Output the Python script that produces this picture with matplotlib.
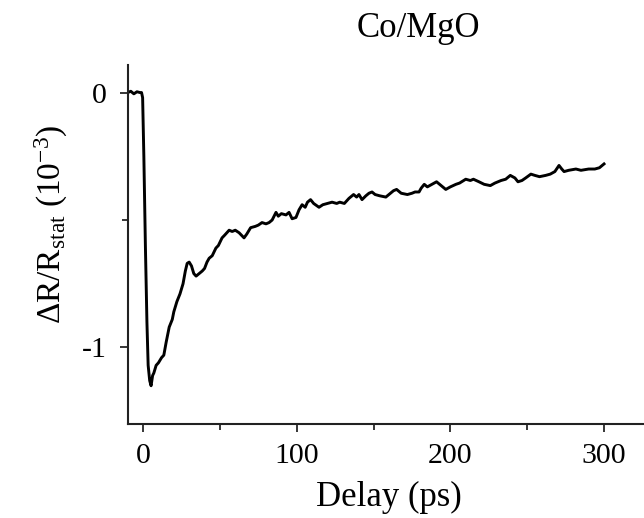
import matplotlib
matplotlib.use('Agg')
import matplotlib.pyplot as plt
from matplotlib.ticker import MultipleLocator

plt.rcParams['font.family'] = ['Liberation Serif', 'DejaVu Serif']
plt.rcParams['mathtext.fontset'] = 'custom'
plt.rcParams['mathtext.rm'] = 'Liberation Serif'
plt.rcParams['mathtext.it'] = 'Liberation Serif:italic'
plt.rcParams['axes.unicode_minus'] = False

# delay (ps) and reflectivity change (1e-3)
delay = [-10, -8, -6, -4, -2, -1, -0.3, 0.5, 1.5, 2.5, 3.3, 4.3, 5.2, 6.2, 7, 8.5, 10, 12, 13.5,
         15, 17, 19, 20, 22, 24, 26, 27.5, 28.7, 30, 31.5, 33, 34.5, 36.5, 38.5, 40, 41.6, 43,
         45, 47.4, 49, 51.4, 53, 56, 58, 60, 62.5, 65.7, 67.5, 70, 73, 75, 77.4, 80, 82, 84,
         86.5, 88, 90, 93, 95, 97, 99.5, 101.5, 103.5, 105.5, 107, 109, 111, 114.5, 117, 120,
         123, 126, 128, 131, 134, 137, 139, 140.5, 142.5, 145, 147, 149, 151, 154, 158, 161,
         163, 165, 168, 172, 175, 177, 179.6, 181, 183, 185, 188, 191, 194, 197, 200, 203.6,
         206, 210, 213, 215, 218.6, 222, 226, 229, 233, 236, 239, 242, 244, 246.6, 249, 252.4,
         255, 258, 262, 265, 268, 270.7, 272.5, 274, 277, 281.7, 285, 290, 294, 297, 300]
signal = [0.0, 0.005, -0.005, 0.003, 0.0, 0.0, -0.02, -0.25, -0.6, -0.9, -1.07, -1.13, -1.15,
          -1.11, -1.10, -1.07, -1.06, -1.04, -1.03, -0.98, -0.92, -0.89, -0.86, -0.82, -0.79,
          -0.75, -0.70, -0.67, -0.665, -0.68, -0.71, -0.72, -0.71, -0.70, -0.69, -0.665, -0.65,
          -0.64, -0.61, -0.60, -0.57, -0.56, -0.54, -0.545, -0.54, -0.55, -0.57, -0.555, -0.53,
          -0.525, -0.52, -0.51, -0.515, -0.51, -0.50, -0.47, -0.485, -0.475, -0.48, -0.47,
          -0.495, -0.49, -0.46, -0.44, -0.45, -0.43, -0.42, -0.435, -0.45, -0.44, -0.435,
          -0.43, -0.435, -0.43, -0.435, -0.415, -0.40, -0.41, -0.40, -0.42, -0.405, -0.395,
          -0.39, -0.40, -0.405, -0.41, -0.395, -0.385, -0.38, -0.395, -0.40, -0.395, -0.39,
          -0.39, -0.375, -0.36, -0.37, -0.36, -0.35, -0.365, -0.38, -0.37, -0.36, -0.355,
          -0.34, -0.345, -0.34, -0.35, -0.36, -0.365, -0.355, -0.345, -0.34, -0.325, -0.335,
          -0.35, -0.345, -0.335, -0.32, -0.325, -0.33, -0.325, -0.32, -0.31, -0.286, -0.30,
          -0.31, -0.305, -0.30, -0.305, -0.30, -0.30, -0.295, -0.28]

xticks = [0, 100, 200, 300]
yticks = [-1, 0]

fig = plt.figure(figsize=(6.44, 5.18), dpi=100)
ax = fig.add_axes([0.1988, 0.1815, 0.8107, 0.693])
ax.plot(delay, signal, color='black', lw=2.1)

ax.set_xlim(-9.8, 330)
ax.set_ylim(-1.30, 0.108)
ax.set_xticks(xticks)
ax.set_yticks(yticks)
ax.set_yticklabels(['-1', '0'])
ax.xaxis.set_minor_locator(MultipleLocator(50))
ax.yaxis.set_minor_locator(MultipleLocator(0.5))

for s in ['top', 'right']:
    ax.spines[s].set_visible(False)
for s in ['left', 'bottom']:
    ax.spines[s].set_linewidth(1.5)
    ax.spines[s].set_color('#222222')

ax.tick_params(which='major', direction='out', length=6, width=1.1, labelsize=21.5, pad=8)
ax.tick_params(which='minor', direction='out', length=4, width=1.1)
ax.tick_params(axis='y', pad=9)

ax.set_xlabel('Delay (ps)', fontsize=25, labelpad=8)
ax.set_ylabel(r'$\Delta$R/R$_{\mathrm{stat}}$ (10$^{-3}$)', fontsize=24)
ax.yaxis.set_label_coords(-0.112, 0.555)
fig.text(0.65, 0.945, 'Co/MgO', fontsize=25, ha='center', va='center')

fig.savefig('out.png', dpi=100)
